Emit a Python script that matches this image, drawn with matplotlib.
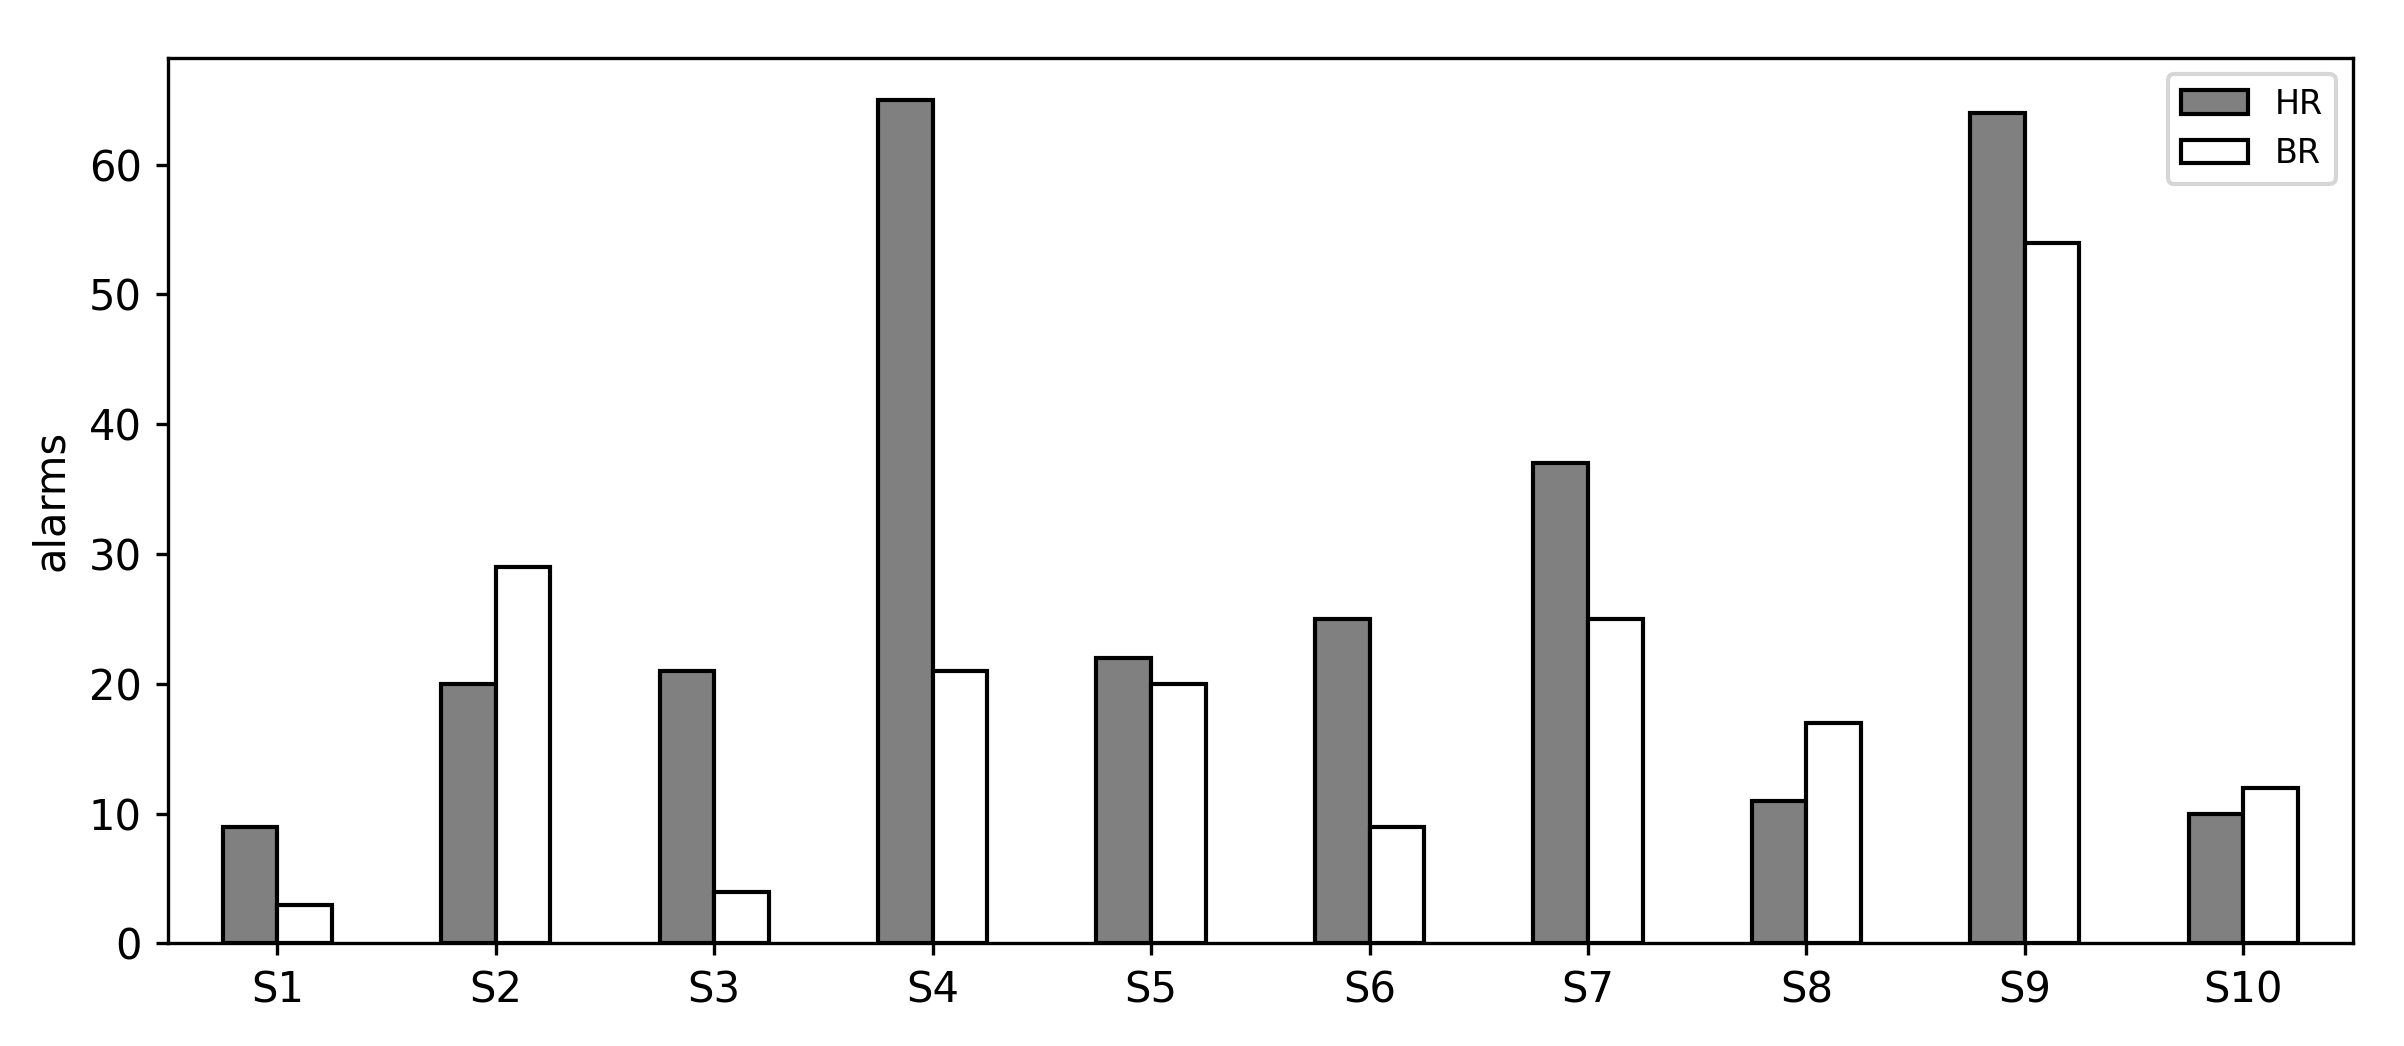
import matplotlib
matplotlib.use("Agg")
import matplotlib.pyplot as plt
import numpy as np

categories = ["S1", "S2", "S3", "S4", "S5", "S6", "S7", "S8", "S9", "S10"]
hr_values = [9, 20, 21, 65, 22, 25, 37, 11, 64, 10]
br_values = [3, 29, 4, 21, 20, 9, 25, 17, 54, 12]

fig = plt.figure(figsize=(2404 / 300, 1046 / 300), dpi=300)
ax = fig.add_axes([0.0699, 0.098, 0.9786 - 0.0699, 0.945 - 0.098])

x = np.arange(len(categories))
w = 0.25
ax.bar(x - w / 2, hr_values, w, color="#808080", edgecolor="black", linewidth=1.0, label="HR")
ax.bar(x + w / 2, br_values, w, color="white", edgecolor="black", linewidth=1.0, label="BR")

ax.set_xlim(-0.5, len(categories) - 0.5)
ax.set_xticks(x)
ax.set_xticklabels(categories, fontsize=10)
ax.tick_params(axis="both", labelsize=10, length=2.8)
ax.set_ylabel("alarms", fontsize=10)
ax.legend(loc="upper right", fontsize=8)

fig.savefig("out.png", dpi=300)
